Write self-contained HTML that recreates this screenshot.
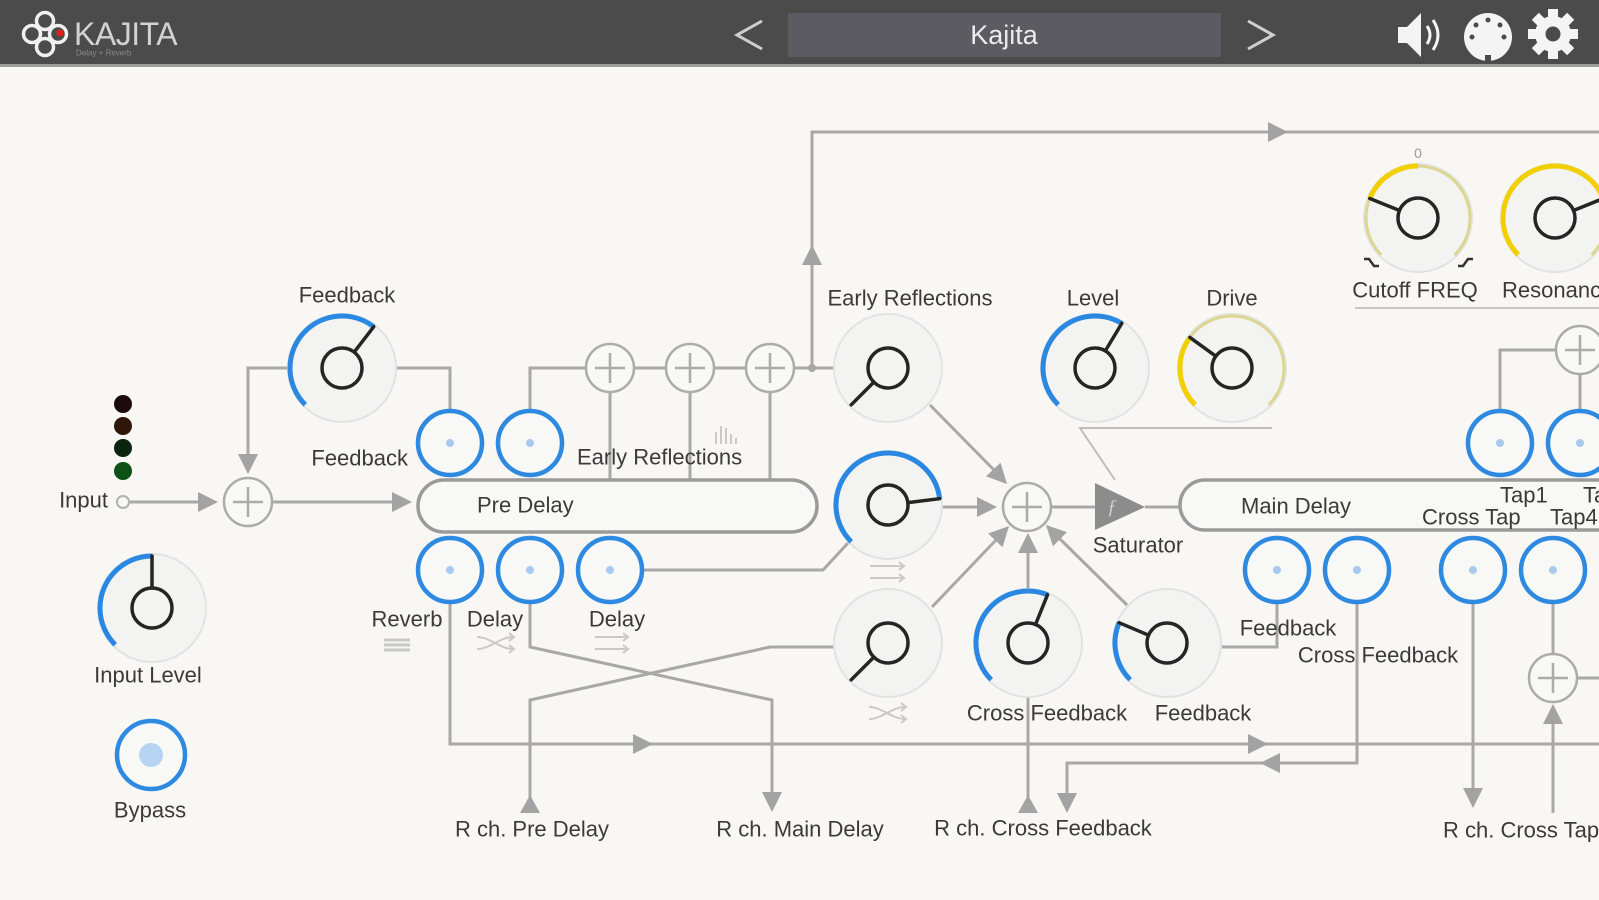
<!DOCTYPE html>
<html><head><meta charset="utf-8">
<style>
html,body{margin:0;padding:0;}
body{width:1599px;height:900px;overflow:hidden;background:#f8f7f4;font-family:"Liberation Sans",sans-serif;}
svg{display:block;}
.t{font-family:"Liberation Sans",sans-serif;font-size:22px;fill:#3a3a3a;dominant-baseline:central;}
.ln{stroke:#a8a8a8;stroke-width:3;fill:none;}
.ar{fill:#a3a3a3;}
.kb{fill:#f3f3f2;stroke:#e0e2e4;stroke-width:2;}
.kin{fill:none;stroke:#252525;stroke-width:3.5;}
.kp{stroke:#252525;stroke-width:3.5;stroke-linecap:round;}
.blue{fill:none;stroke:#2a88e2;stroke-width:5;}
.yel{fill:none;stroke:#f2d000;stroke-width:5;}
.ytr{fill:none;stroke:#ddd690;stroke-width:3;}
.bc{fill:#f8f8f6;stroke:#2d8ae0;stroke-width:4.5;}
.bd{fill:#a9c9ef;}
.sum{fill:#f8f8f6;stroke:#ababab;stroke-width:2.5;}
.sp{stroke:#ababab;stroke-width:2.5;}
.pill{fill:#f8f8f6;stroke:#9a9a9a;stroke-width:3.5;}
.ic{stroke:#c9c9c9;stroke-width:2;fill:none;}
</style></head>
<body>
<svg width="1599" height="900" viewBox="0 0 1599 900" xmlns="http://www.w3.org/2000/svg">
<!-- header -->
<rect x="0" y="0" width="1599" height="64" fill="#4b4b4b"/>
<rect x="0" y="64" width="1599" height="3" fill="#9c9c9c"/>
<g fill="none" stroke="#f0f0f0" stroke-width="3.5">
<circle cx="45" cy="21" r="8.5"/><circle cx="32" cy="34" r="8.5"/><circle cx="58" cy="34" r="8.5"/><circle cx="45" cy="47" r="8.5"/>
</g>
<circle cx="60" cy="33" r="3.5" fill="#e0201a"/>
<text x="74" y="34" font-family="Liberation Sans" font-size="32" fill="#d2d2d2" dominant-baseline="central" letter-spacing="-0.5">KAJITA</text>
<text x="76" y="53" font-family="Liberation Sans" font-size="8" fill="#8a8a8a" dominant-baseline="central">Delay + Reverb</text>
<polyline points="762,21 737,35 762,49" fill="none" stroke="#cfcfcf" stroke-width="3"/>
<rect x="788" y="13" width="433" height="44" fill="#5b5b61"/>
<text x="1004" y="35" font-family="Liberation Sans" font-size="27" fill="#ececec" text-anchor="middle" dominant-baseline="central">Kajita</text>
<polyline points="1248,21 1273,35 1248,49" fill="none" stroke="#cfcfcf" stroke-width="3"/>
<!-- speaker -->
<polygon points="1398,27 1407,27 1421,13 1421,57 1407,43 1398,43" fill="#f4f4f4"/>
<path d="M1427,26 Q1433,35 1427,44" fill="none" stroke="#f4f4f4" stroke-width="3"/>
<path d="M1433,20 Q1443,35 1433,50" fill="none" stroke="#f4f4f4" stroke-width="3"/>
<!-- midi -->
<circle cx="1488" cy="37" r="24" fill="#f4f4f4"/>
<g fill="#4b4b4b"><circle cx="1488" cy="20" r="2.5"/><circle cx="1476" cy="25" r="2.5"/><circle cx="1500" cy="25" r="2.5"/><circle cx="1472" cy="37" r="2.5"/><circle cx="1504" cy="37" r="2.5"/><rect x="1485" y="55" width="6" height="6"/></g>
<!-- gear -->
<g transform="translate(1553,34)">
<circle r="18" fill="#f4f4f4"/>
<g fill="#f4f4f4">
<rect x="-5" y="-25" width="10" height="12" transform="rotate(0)"/>
<rect x="-5" y="-25" width="10" height="12" transform="rotate(45)"/>
<rect x="-5" y="-25" width="10" height="12" transform="rotate(90)"/>
<rect x="-5" y="-25" width="10" height="12" transform="rotate(135)"/>
<rect x="-5" y="-25" width="10" height="12" transform="rotate(180)"/>
<rect x="-5" y="-25" width="10" height="12" transform="rotate(225)"/>
<rect x="-5" y="-25" width="10" height="12" transform="rotate(270)"/>
<rect x="-5" y="-25" width="10" height="12" transform="rotate(315)"/>
</g>
<circle r="7.5" fill="#4b4b4b"/>
</g>

<!-- ===== connectors ===== -->
<g class="ln">
<!-- input -->
<line x1="129" y1="502" x2="200" y2="502"/>
<line x1="272" y1="502" x2="394" y2="502"/>
<!-- feedback loop -->
<polyline points="288,368 248,368 248,456"/>
<polyline points="396,368 450,368 450,409"/>
<!-- early reflections taps -->
<polyline points="530,409 530,368 586,368"/>
<line x1="634" y1="368" x2="666" y2="368"/>
<line x1="714" y1="368" x2="746" y2="368"/>
<line x1="794" y1="368" x2="833" y2="368"/>
<line x1="610" y1="393" x2="610" y2="480"/>
<line x1="690" y1="393" x2="690" y2="480"/>
<line x1="770" y1="393" x2="770" y2="480"/>
<polyline points="812,368 812,132 1599,132"/>
<!-- delay out to middle knob -->
<polyline points="643,570 823,570 848,543"/>
<!-- into sum -->
<line x1="943" y1="507" x2="980" y2="507"/>
<line x1="930" y1="405" x2="994" y2="470"/>
<line x1="932" y1="607" x2="996" y2="540"/>
<line x1="1028" y1="588" x2="1028" y2="550"/>
<line x1="1127" y1="605" x2="1060" y2="539"/>
<line x1="1051" y1="507" x2="1095" y2="507"/>
<line x1="1145" y1="507" x2="1180" y2="507"/>
<!-- bottom routing -->
<polyline points="450,604 450,744 1599,744"/>
<polyline points="530,604 530,647 772,700 772,795"/>
<polyline points="833,647 770,647 530,700 530,812"/>
<line x1="1028" y1="698" x2="1028" y2="812"/>
<polyline points="1277,604 1277,647 1222,647"/>
<polyline points="1357,604 1357,763 1067,763 1067,795"/>
<line x1="1473" y1="604" x2="1473" y2="790"/>
<line x1="1553" y1="604" x2="1553" y2="654"/>
<line x1="1577" y1="678" x2="1599" y2="678"/>
<line x1="1553" y1="722" x2="1553" y2="813"/>
<polyline points="1500,409 1500,350 1556,350"/>
<line x1="1580" y1="374" x2="1580" y2="409"/>
</g>
<!-- level / drive thin lines -->
<polyline points="1272,428 1080,428 1115,480" fill="none" stroke="#bdbdbd" stroke-width="2"/>
<line x1="1355" y1="308" x2="1599" y2="308" stroke="#c4c4c4" stroke-width="2"/>

<!-- arrowheads -->
<g class="ar">
<polygon points="198,492 218,502 198,512"/>
<polygon points="392,492 412,502 392,512"/>
<polygon points="238,454 248,474 258,454"/>
<polygon points="802,265 812,245 822,265"/>
<polygon points="1268,122 1288,132 1268,142"/>
<polygon points="977,497 997,507 977,517"/>
<polygon points="1007,484 986,476.4 1000.5,462.6"/>
<polygon points="1009,526 1002.6,547.3 988.1,533.5"/>
<polygon points="1018,553 1028,533 1038,553"/>
<polygon points="1046,525 1066.9,532.1 1052.9,546.3"/>
<polygon points="633,734 653,744 633,754"/>
<polygon points="1248,734 1268,744 1248,754"/>
<polygon points="1280,753 1260,763 1280,773"/>
<polygon points="762,792 772,812 782,792"/>
<polygon points="520,813 530,795 540,813"/>
<polygon points="1018,813 1028,795 1038,813"/>
<polygon points="1057,793 1067,813 1077,793"/>
<polygon points="1463,788 1473,808 1483,788"/>
<polygon points="1543,724 1553,704 1563,724"/>
</g>

<!-- sum circles -->
<g>
<circle class="sum" cx="248" cy="502" r="24"/><line class="sp" x1="233" y1="502" x2="263" y2="502"/><line class="sp" x1="248" y1="487" x2="248" y2="517"/>
<circle class="sum" cx="610" cy="368" r="24"/><line class="sp" x1="595" y1="368" x2="625" y2="368"/><line class="sp" x1="610" y1="353" x2="610" y2="383"/>
<circle class="sum" cx="690" cy="368" r="24"/><line class="sp" x1="675" y1="368" x2="705" y2="368"/><line class="sp" x1="690" y1="353" x2="690" y2="383"/>
<circle class="sum" cx="770" cy="368" r="24"/><line class="sp" x1="755" y1="368" x2="785" y2="368"/><line class="sp" x1="770" y1="353" x2="770" y2="383"/>
<circle class="sum" cx="1027" cy="507" r="24"/><line class="sp" x1="1012" y1="507" x2="1042" y2="507"/><line class="sp" x1="1027" y1="492" x2="1027" y2="522"/>
<circle class="sum" cx="1580" cy="350" r="24"/><line class="sp" x1="1565" y1="350" x2="1595" y2="350"/><line class="sp" x1="1580" y1="335" x2="1580" y2="365"/>
<circle class="sum" cx="1553" cy="678" r="24"/><line class="sp" x1="1538" y1="678" x2="1568" y2="678"/><line class="sp" x1="1553" y1="663" x2="1553" y2="693"/>
</g>
<circle cx="812" cy="368" r="4" fill="#a8a8a8"/>
<circle cx="123" cy="502" r="6" fill="#f8f8f6" stroke="#b0b0b0" stroke-width="2"/>

<!-- pills -->
<rect class="pill" x="418" y="480" width="399" height="52" rx="26"/>
<rect class="pill" x="1180" y="480" width="480" height="50" rx="25"/>

<!-- saturator -->
<polygon points="1095,483 1145,507 1095,530" fill="#8c8c8c"/>
<text x="1112" y="507" font-family="Liberation Serif" font-style="italic" font-size="20" fill="#cfcfcf" dominant-baseline="central" text-anchor="middle">ƒ</text>

<!-- LEDs -->
<circle cx="123" cy="404" r="9" fill="#1c0b0b"/>
<circle cx="123" cy="426" r="9" fill="#2e1609"/>
<circle cx="123" cy="448" r="9" fill="#0b2410"/>
<circle cx="123" cy="471" r="9" fill="#0b5214"/>

<!-- knobs -->
<!-- Feedback 1 -->
<g><circle class="kb" cx="342" cy="368" r="54"/>
<circle class="blue" cx="342" cy="368" r="52" stroke-dasharray="156.6 400" transform="rotate(135 342 368)"/>
<circle class="kin" cx="342" cy="368" r="20"/><line class="kp" x1="354.2" y1="352.1" x2="373.7" y2="326.8"/></g>
<!-- Input Level -->
<g><circle class="kb" cx="152" cy="608" r="54"/>
<circle class="blue" cx="152" cy="608" r="52" stroke-dasharray="122.5 400" transform="rotate(135 152 608)"/>
<circle class="kin" cx="152" cy="608" r="20"/><line class="kp" x1="152" y1="588" x2="152" y2="556"/></g>
<!-- ER upper -->
<g><circle class="kb" cx="888" cy="368" r="54"/>
<circle class="kin" cx="888" cy="368" r="20"/><line class="kp" x1="873.9" y1="382.1" x2="851.2" y2="404.8"/></g>
<!-- middle knob -->
<g><circle class="kb" cx="888" cy="505" r="54"/>
<circle class="blue" cx="888" cy="505" r="52" stroke-dasharray="197.9 400" transform="rotate(135 888 505)"/>
<circle class="kin" cx="888" cy="505" r="20"/><line class="kp" x1="907.9" y1="502.6" x2="939.6" y2="498.7"/></g>
<!-- ER lower -->
<g><circle class="kb" cx="888" cy="643" r="54"/>
<circle class="kin" cx="888" cy="643" r="20"/><line class="kp" x1="873.9" y1="657.1" x2="851.2" y2="679.8"/></g>
<!-- Level -->
<g><circle class="kb" cx="1095" cy="368" r="54"/>
<circle class="blue" cx="1095" cy="368" r="52" stroke-dasharray="150.7 400" transform="rotate(135 1095 368)"/>
<circle class="kin" cx="1095" cy="368" r="20"/><line class="kp" x1="1105.3" y1="350.9" x2="1121.8" y2="323.4"/></g>
<!-- Drive -->
<g><circle class="kb" cx="1232" cy="368" r="54"/>
<circle class="ytr" cx="1232" cy="368" r="52" stroke-dasharray="245 400" transform="rotate(135 1232 368)"/>
<circle class="yel" cx="1232" cy="368" r="52" stroke-dasharray="73.5 400" transform="rotate(135 1232 368)"/>
<circle class="kin" cx="1232" cy="368" r="20"/><line class="kp" x1="1215.8" y1="356.2" x2="1189.9" y2="337.4"/></g>
<!-- Cross Feedback -->
<g><circle class="kb" cx="1028" cy="643" r="54"/>
<circle class="blue" cx="1028" cy="643" r="52" stroke-dasharray="142.5 400" transform="rotate(135 1028 643)"/>
<circle class="kin" cx="1028" cy="643" r="20"/><line class="kp" x1="1035.5" y1="624.5" x2="1047.5" y2="594.8"/></g>
<!-- Feedback 2 -->
<g><circle class="kb" cx="1167" cy="643" r="54"/>
<circle class="blue" cx="1167" cy="643" r="52" stroke-dasharray="61.7 400" transform="rotate(135 1167 643)"/>
<circle class="kin" cx="1167" cy="643" r="20"/><line class="kp" x1="1148.6" y1="635.2" x2="1119.1" y2="622.7"/></g>
<!-- Cutoff -->
<g><circle class="kb" cx="1418" cy="218" r="54"/>
<circle class="ytr" cx="1418" cy="218" r="52" stroke-dasharray="245 400" transform="rotate(135 1418 218)"/>
<circle class="yel" cx="1418" cy="218" r="52" stroke-dasharray="61.7 400" transform="rotate(202 1418 218)"/>
<circle class="kin" cx="1418" cy="218" r="20"/><line class="kp" x1="1399.5" y1="210.5" x2="1369.8" y2="198.5"/></g>
<text x="1418" y="153" font-family="Liberation Sans" font-size="14" fill="#9a9a9a" text-anchor="middle" dominant-baseline="central">0</text>
<path d="M1364,259 l5,0 l5,7 l5,0" fill="none" stroke="#333" stroke-width="2.5"/>
<path d="M1458,266 l5,0 l5,-7 l5,0" fill="none" stroke="#333" stroke-width="2.5"/>
<!-- Resonance -->
<g><circle class="kb" cx="1555" cy="218" r="54"/>
<circle class="ytr" cx="1555" cy="218" r="52" stroke-dasharray="245 400" transform="rotate(135 1555 218)"/>
<circle class="yel" cx="1555" cy="218" r="52" stroke-dasharray="184.2 400" transform="rotate(135 1555 218)"/>
<circle class="kin" cx="1555" cy="218" r="20"/><line class="kp" x1="1573.5" y1="210.5" x2="1603.2" y2="198.5"/></g>

<!-- blue toggle circles -->
<g>
<circle class="bc" cx="450" cy="443" r="32"/><circle class="bd" cx="450" cy="443" r="4"/>
<circle class="bc" cx="530" cy="443" r="32"/><circle class="bd" cx="530" cy="443" r="4"/>
<circle class="bc" cx="450" cy="570" r="32"/><circle class="bd" cx="450" cy="570" r="4"/>
<circle class="bc" cx="530" cy="570" r="32"/><circle class="bd" cx="530" cy="570" r="4"/>
<circle class="bc" cx="610" cy="570" r="32"/><circle class="bd" cx="610" cy="570" r="4"/>
<circle class="bc" cx="1277" cy="570" r="32"/><circle class="bd" cx="1277" cy="570" r="4"/>
<circle class="bc" cx="1357" cy="570" r="32"/><circle class="bd" cx="1357" cy="570" r="4"/>
<circle class="bc" cx="1473" cy="570" r="32"/><circle class="bd" cx="1473" cy="570" r="4"/>
<circle class="bc" cx="1553" cy="570" r="32"/><circle class="bd" cx="1553" cy="570" r="4"/>
<circle class="bc" cx="1500" cy="443" r="32"/><circle class="bd" cx="1500" cy="443" r="4"/>
<circle class="bc" cx="1580" cy="443" r="32"/><circle class="bd" cx="1580" cy="443" r="4"/>
</g>
<!-- bypass -->
<circle cx="151" cy="755" r="34" fill="#f8f8f6" stroke="#2d8ae0" stroke-width="4.5"/>
<circle cx="151" cy="755" r="12" fill="#b6d4f1"/>

<!-- small light icons -->
<g class="ic">
<!-- histogram -->
<line x1="716" y1="444" x2="716" y2="432"/><line x1="721" y1="444" x2="721" y2="426"/><line x1="726" y1="444" x2="726" y2="428"/><line x1="731" y1="444" x2="731" y2="434"/><line x1="736" y1="444" x2="736" y2="438"/>
<!-- reverb icon -->
<line x1="384" y1="640" x2="410" y2="640" stroke-width="3"/><line x1="384" y1="645" x2="410" y2="645" stroke-width="3"/><line x1="384" y1="650" x2="410" y2="650" stroke-width="3"/>
<!-- shuffle under delay1 -->
<path d="M477,637 C490,637 500,649 513,649 M477,649 C490,649 500,637 513,637"/><path d="M509,633 l5,4 l-5,4 M509,645 l5,4 l-5,4"/>
<!-- double arrow under delay2 -->
<line x1="595" y1="637" x2="628" y2="637"/><line x1="595" y1="649" x2="628" y2="649"/><path d="M623,633 l5,4 l-5,4 M623,645 l5,4 l-5,4"/>
<!-- double arrow under middle knob -->
<line x1="870" y1="566" x2="904" y2="566"/><line x1="870" y1="578" x2="904" y2="578"/><path d="M899,562 l5,4 l-5,4 M899,574 l5,4 l-5,4"/>
<!-- shuffle under ER lower -->
<path d="M869,707 C882,707 892,719 905,719 M869,719 C882,719 892,707 905,707"/><path d="M901,703 l5,4 l-5,4 M901,715 l5,4 l-5,4"/>
</g>

<!-- labels -->
<text class="t" x="108" y="500" text-anchor="end">Input</text>
<text class="t" x="347" y="295" text-anchor="middle">Feedback</text>
<text class="t" x="408" y="458" text-anchor="end">Feedback</text>
<text class="t" x="577" y="457">Early Reflections</text>
<text class="t" x="477" y="505">Pre Delay</text>
<text class="t" x="407" y="619" text-anchor="middle">Reverb</text>
<text class="t" x="495" y="619" text-anchor="middle">Delay</text>
<text class="t" x="617" y="619" text-anchor="middle">Delay</text>
<text class="t" x="148" y="675" text-anchor="middle">Input Level</text>
<text class="t" x="150" y="810" text-anchor="middle">Bypass</text>
<text class="t" x="532" y="829" text-anchor="middle">R ch. Pre Delay</text>
<text class="t" x="800" y="829" text-anchor="middle">R ch. Main Delay</text>
<text class="t" x="1043" y="828" text-anchor="middle">R ch. Cross Feedback</text>
<text class="t" x="1443" y="830">R ch. Cross Tap</text>
<text class="t" x="910" y="298" text-anchor="middle">Early Reflections</text>
<text class="t" x="1093" y="298" text-anchor="middle">Level</text>
<text class="t" x="1232" y="298" text-anchor="middle">Drive</text>
<text class="t" x="1415" y="290" text-anchor="middle">Cutoff FREQ</text>
<text class="t" x="1502" y="290">Resonance</text>
<text class="t" x="1138" y="545" text-anchor="middle">Saturator</text>
<text class="t" x="1047" y="713" text-anchor="middle">Cross Feedback</text>
<text class="t" x="1203" y="713" text-anchor="middle">Feedback</text>
<text class="t" x="1241" y="506">Main Delay</text>
<text class="t" x="1500" y="495">Tap1</text>
<text class="t" x="1583" y="495">Tap3</text>
<text class="t" x="1422" y="517">Cross Tap</text>
<text class="t" x="1550" y="517">Tap4</text>
<text class="t" x="1288" y="628" text-anchor="middle">Feedback</text>
<text class="t" x="1378" y="655" text-anchor="middle">Cross Feedback</text>
</svg>
</body></html>
